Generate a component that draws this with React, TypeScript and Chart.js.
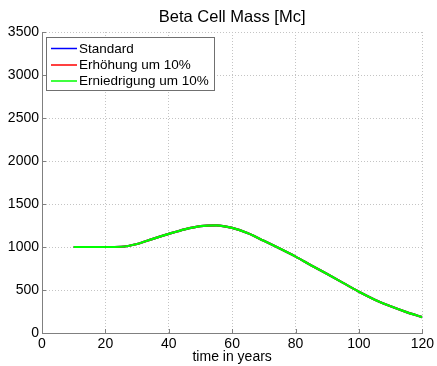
import React, { useEffect, useRef } from "react";
import { Chart, registerables } from "chart.js";

Chart.register(...registerables);

const years = [10, 15, 20, 25, 30, 35, 40, 45, 50, 55, 60, 65, 70, 75, 80, 85, 90, 95, 100, 105, 110, 115, 120];
const standard = [1000, 1000, 1000, 1003, 1035, 1095, 1152, 1205, 1243, 1252, 1222, 1160, 1072, 982, 888, 785, 685, 583, 480, 388, 310, 243, 185];
const increased = [1000, 1000, 1000, 1003, 1035, 1095, 1152, 1205, 1243, 1252, 1222, 1160, 1072, 982, 888, 785, 685, 583, 480, 388, 310, 243, 185];
const decreased = [1000, 1000, 1000, 1003, 1035, 1095, 1152, 1205, 1243, 1252, 1222, 1160, 1072, 982, 888, 785, 685, 583, 480, 388, 310, 243, 185];

const seriesLabels = ["Standard", "Erhöhung um 10%", "Erniedrigung um 10%"];
const seriesColors = ["#0000ff", "#ff0000", "#00ff00"];
const titleText = "Beta Cell Mass [Mc]";
const xTitle = "time in years";

const FONT = "Arial, 'Liberation Sans', sans-serif";

const points = (vals: number[]) => years.map((x, i) => ({ x, y: vals[i] }));

// Title, inward tick marks and the boxed legend inside the plot
const decorations = {
  id: "decorations",
  afterDraw(chart: any) {
    const ctx = chart.ctx as CanvasRenderingContext2D;
    const area = chart.chartArea;
    const xs = chart.scales.x;
    const ys = chart.scales.y;
    ctx.save();

    // title
    ctx.fillStyle = "#000";
    ctx.font = `16.5px ${FONT}`;
    ctx.textAlign = "center";
    ctx.textBaseline = "middle";
    ctx.fillText(titleText, (area.left + area.right) / 2, 17);

    // x axis title
    ctx.font = `14px ${FONT}`;
    ctx.fillText(xTitle, (area.left + area.right) / 2, 357);

    // inward ticks
    ctx.strokeStyle = "#808080";
    ctx.lineWidth = 1;
    ctx.beginPath();
    xs.ticks.forEach((t: any) => {
      const px = Math.round(xs.getPixelForValue(t.value)) + 0.5;
      ctx.moveTo(px, area.bottom);
      ctx.lineTo(px, area.bottom - 4);
    });
    ys.ticks.forEach((t: any) => {
      const py = Math.round(ys.getPixelForValue(t.value)) + 0.5;
      ctx.moveTo(area.left, py);
      ctx.lineTo(area.left + 4, py);
    });
    ctx.stroke();

    // legend
    const bx = 46.5, by = 37.5, bw = 168, bh = 53;
    ctx.fillStyle = "#fff";
    ctx.fillRect(bx, by, bw, bh);
    ctx.strokeStyle = "#707070";
    ctx.strokeRect(bx, by, bw, bh);
    const rowY = [48.5, 65, 81];
    ctx.font = `13.5px ${FONT}`;
    ctx.textAlign = "left";
    ctx.textBaseline = "middle";
    chart.data.datasets.forEach((ds: any, i: number) => {
      ctx.strokeStyle = ds.borderColor;
      ctx.lineWidth = 1.5;
      ctx.beginPath();
      ctx.moveTo(51, rowY[i]);
      ctx.lineTo(77, rowY[i]);
      ctx.stroke();
      ctx.fillStyle = "#000";
      ctx.fillText(ds.label, 79, rowY[i] + 0.5);
    });
    ctx.restore();
  },
};

export default function App() {
  const canvasRef = useRef<HTMLCanvasElement | null>(null);

  useEffect(() => {
    const canvas = canvasRef.current;
    if (!canvas) return;
    const series = [standard, increased, decreased];
    const chart = new Chart(canvas, {
      type: "line",
      data: {
        datasets: series.map((vals, i) => ({
          label: seriesLabels[i],
          data: points(vals),
          borderColor: seriesColors[i],
          backgroundColor: seriesColors[i],
          borderWidth: 2.2,
          pointRadius: 0,
          cubicInterpolationMode: "monotone" as const,
          fill: false,
          order: 3 - i,
        })),
      },
      options: {
        responsive: false,
        animation: false,
        devicePixelRatio: 1,
        layout: { padding: { top: 32, right: 14, left: 0, bottom: 0 } },
        plugins: {
          legend: { display: false },
          title: { display: false },
          tooltip: { enabled: false },
        },
        scales: {
          x: {
            type: "linear",
            min: 0,
            max: 120,
            ticks: {
              stepSize: 20,
              color: "#000",
              font: { family: FONT, size: 14 },
              padding: 3,
              maxRotation: 0,
              callback: (v: any) => String(v),
            },
            grid: { color: "#c4c4c4", drawTicks: false, lineWidth: 1 },
            border: { display: true, color: "#808080", width: 1, dash: [1, 2] },
            afterFit: (scale: any) => {
              scale.height = 33;
            },
          },
          y: {
            type: "linear",
            min: 0,
            max: 3500,
            ticks: {
              stepSize: 500,
              color: "#000",
              font: { family: FONT, size: 14 },
              padding: 3,
              callback: (v: any) => String(v),
            },
            grid: { color: "#c4c4c4", drawTicks: false, lineWidth: 1 },
            border: { display: true, color: "#808080", width: 1, dash: [1, 2] },
            afterFit: (scale: any) => {
              scale.width = 42;
            },
          },
        },
      },
      plugins: [decorations],
    });
    return () => chart.destroy();
  }, []);

  return (
    <div style={{ position: "absolute", left: 0, top: 0, width: 437, height: 366, background: "#fff" }}>
      <canvas ref={canvasRef} width={437} height={366} style={{ display: "block" }} />
    </div>
  );
}
